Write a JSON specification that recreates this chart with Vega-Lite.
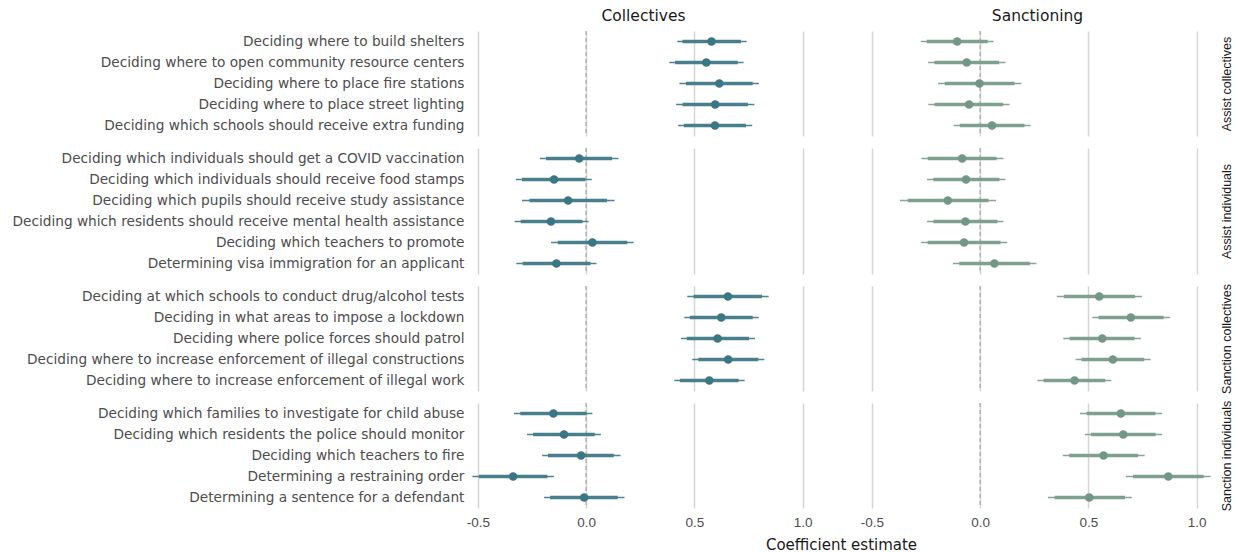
{
  "$schema": "https://vega.github.io/schema/vega-lite/v6.json",
  "padding": {"left": 11, "top": 8, "right": 2, "bottom": 1},
  "background": "white",
  "datasets": {
    "d": [
      {"m":"C","g":"AC","o":1,"t":"Deciding where to build shelters","e":0.579,"l1":0.445,"h1":0.715,"l2":0.421,"h2":0.741},
      {"m":"C","g":"AC","o":2,"t":"Deciding where to open community resource centers","e":0.555,"l1":0.411,"h1":0.700,"l2":0.384,"h2":0.727},
      {"m":"C","g":"AC","o":3,"t":"Deciding where to place fire stations","e":0.615,"l1":0.461,"h1":0.769,"l2":0.431,"h2":0.798},
      {"m":"C","g":"AC","o":4,"t":"Deciding where to place street lighting","e":0.596,"l1":0.445,"h1":0.747,"l2":0.416,"h2":0.777},
      {"m":"C","g":"AC","o":5,"t":"Deciding which schools should receive extra funding","e":0.595,"l1":0.451,"h1":0.738,"l2":0.425,"h2":0.767},
      {"m":"C","g":"AI","o":1,"t":"Deciding which individuals should get a COVID vaccination","e":-0.032,"l1":-0.185,"h1":0.120,"l2":-0.213,"h2":0.149},
      {"m":"C","g":"AI","o":2,"t":"Deciding which individuals should receive food stamps","e":-0.148,"l1":-0.296,"h1":-0.003,"l2":-0.324,"h2":0.026},
      {"m":"C","g":"AI","o":3,"t":"Deciding which pupils should receive study assistance","e":-0.083,"l1":-0.262,"h1":0.096,"l2":-0.296,"h2":0.131},
      {"m":"C","g":"AI","o":4,"t":"Deciding which residents should receive mental health assistance","e":-0.162,"l1":-0.302,"h1":-0.017,"l2":-0.330,"h2":0.011},
      {"m":"C","g":"AI","o":5,"t":"Deciding which teachers to promote","e":0.029,"l1":-0.131,"h1":0.190,"l2":-0.162,"h2":0.219},
      {"m":"C","g":"AI","o":6,"t":"Determining visa immigration for an applicant","e":-0.137,"l1":-0.293,"h1":0.020,"l2":-0.322,"h2":0.048},
      {"m":"C","g":"SC","o":1,"t":"Deciding at which schools to conduct drug/alcohol tests","e":0.655,"l1":0.496,"h1":0.812,"l2":0.467,"h2":0.843},
      {"m":"C","g":"SC","o":2,"t":"Deciding in what areas to impose a lockdown","e":0.624,"l1":0.479,"h1":0.769,"l2":0.453,"h2":0.797},
      {"m":"C","g":"SC","o":3,"t":"Deciding where police forces should patrol","e":0.607,"l1":0.465,"h1":0.752,"l2":0.438,"h2":0.780},
      {"m":"C","g":"SC","o":4,"t":"Deciding where to increase enforcement of illegal constructions","e":0.656,"l1":0.518,"h1":0.795,"l2":0.490,"h2":0.823},
      {"m":"C","g":"SC","o":5,"t":"Deciding where to increase enforcement of illegal work","e":0.569,"l1":0.433,"h1":0.704,"l2":0.407,"h2":0.732},
      {"m":"C","g":"SI","o":1,"t":"Deciding which families to investigate for child abuse","e":-0.151,"l1":-0.304,"h1":0.002,"l2":-0.333,"h2":0.029},
      {"m":"C","g":"SI","o":2,"t":"Deciding which residents the police should monitor","e":-0.102,"l1":-0.245,"h1":0.040,"l2":-0.273,"h2":0.068},
      {"m":"C","g":"SI","o":3,"t":"Deciding which teachers to fire","e":-0.023,"l1":-0.176,"h1":0.128,"l2":-0.203,"h2":0.159},
      {"m":"C","g":"SI","o":4,"t":"Determining a restraining order","e":-0.337,"l1":-0.495,"h1":-0.179,"l2":-0.525,"h2":-0.149},
      {"m":"C","g":"SI","o":5,"t":"Determining a sentence for a defendant","e":-0.009,"l1":-0.166,"h1":0.146,"l2":-0.194,"h2":0.177},
      {"m":"S","g":"AC","o":1,"t":"Deciding where to build shelters","e":-0.106,"l1":-0.247,"h1":0.035,"l2":-0.274,"h2":0.062},
      {"m":"S","g":"AC","o":2,"t":"Deciding where to open community resource centers","e":-0.062,"l1":-0.211,"h1":0.088,"l2":-0.240,"h2":0.117},
      {"m":"S","g":"AC","o":3,"t":"Deciding where to place fire stations","e":-0.003,"l1":-0.163,"h1":0.159,"l2":-0.194,"h2":0.190},
      {"m":"S","g":"AC","o":4,"t":"Deciding where to place street lighting","e":-0.051,"l1":-0.210,"h1":0.106,"l2":-0.239,"h2":0.136},
      {"m":"S","g":"AC","o":5,"t":"Deciding which schools should receive extra funding","e":0.055,"l1":-0.094,"h1":0.205,"l2":-0.122,"h2":0.233},
      {"m":"S","g":"AI","o":1,"t":"Deciding which individuals should get a COVID vaccination","e":-0.083,"l1":-0.242,"h1":0.076,"l2":-0.271,"h2":0.108},
      {"m":"S","g":"AI","o":2,"t":"Deciding which individuals should receive food stamps","e":-0.065,"l1":-0.216,"h1":0.089,"l2":-0.245,"h2":0.117},
      {"m":"S","g":"AI","o":3,"t":"Deciding which pupils should receive study assistance","e":-0.149,"l1":-0.334,"h1":0.039,"l2":-0.370,"h2":0.074},
      {"m":"S","g":"AI","o":4,"t":"Deciding which residents should receive mental health assistance","e":-0.068,"l1":-0.216,"h1":0.080,"l2":-0.245,"h2":0.108},
      {"m":"S","g":"AI","o":5,"t":"Deciding which teachers to promote","e":-0.074,"l1":-0.242,"h1":0.094,"l2":-0.273,"h2":0.125},
      {"m":"S","g":"AI","o":6,"t":"Determining visa immigration for an applicant","e":0.066,"l1":-0.096,"h1":0.230,"l2":-0.125,"h2":0.260},
      {"m":"S","g":"SC","o":1,"t":"Deciding at which schools to conduct drug/alcohol tests","e":0.550,"l1":0.387,"h1":0.715,"l2":0.354,"h2":0.747},
      {"m":"S","g":"SC","o":2,"t":"Deciding in what areas to impose a lockdown","e":0.696,"l1":0.547,"h1":0.847,"l2":0.518,"h2":0.877},
      {"m":"S","g":"SC","o":3,"t":"Deciding where police forces should patrol","e":0.564,"l1":0.413,"h1":0.713,"l2":0.384,"h2":0.743},
      {"m":"S","g":"SC","o":4,"t":"Deciding where to increase enforcement of illegal constructions","e":0.613,"l1":0.468,"h1":0.758,"l2":0.441,"h2":0.787},
      {"m":"S","g":"SC","o":5,"t":"Deciding where to increase enforcement of illegal work","e":0.436,"l1":0.293,"h1":0.578,"l2":0.265,"h2":0.606},
      {"m":"S","g":"SI","o":1,"t":"Deciding which families to investigate for child abuse","e":0.650,"l1":0.492,"h1":0.809,"l2":0.461,"h2":0.840},
      {"m":"S","g":"SI","o":2,"t":"Deciding which residents the police should monitor","e":0.661,"l1":0.512,"h1":0.810,"l2":0.484,"h2":0.840},
      {"m":"S","g":"SI","o":3,"t":"Deciding which teachers to fire","e":0.570,"l1":0.411,"h1":0.729,"l2":0.382,"h2":0.760},
      {"m":"S","g":"SI","o":4,"t":"Determining a restraining order","e":0.869,"l1":0.706,"h1":1.032,"l2":0.673,"h2":1.065},
      {"m":"S","g":"SI","o":5,"t":"Determining a sentence for a defendant","e":0.504,"l1":0.344,"h1":0.669,"l2":0.313,"h2":0.700}
    ]
  },
  "columns": 2,
  "align": "each",
  "bounds": "flush",
  "spacing": {"row": 12, "column": 41},
  "concat": [
    {
      "width": 353, "height": {"step": 21},
      "title": {"text": "Collectives"},
      "layer": [
        {"data": {"values": [{"z": 0}]}, "mark": {"type": "rule", "color": "#b3b3b3", "strokeDash": [4, 3], "strokeWidth": 1.5},
         "encoding": {"x": {"field": "z", "type": "quantitative", "scale": {"domain": [-0.55, 1.08], "nice": false, "zero": false}, "axis": {"values": [-0.5, 0, 0.5, 1], "labels": false, "title": null}}}},
        {"data": {"name": "d"}, "transform": [{"filter": "datum.m === 'C' && datum.g === 'AC'"}],
         "encoding": {"y": {"field": "t", "type": "nominal", "sort": {"field": "o", "op": "min"}, "axis": {"title": null, "labelLimit": 1000}}},
         "layer": [
           {"mark": {"type": "rule", "color": "#4f8391", "strokeWidth": 1.3}, "encoding": {"x": {"field": "l2", "type": "quantitative", "scale": {"domain": [-0.55, 1.08], "nice": false, "zero": false}, "axis": {"values": [-0.5, 0, 0.5, 1], "labels": false, "title": null}}, "x2": {"field": "h2"}}},
           {"mark": {"type": "rule", "color": "#487f8c", "strokeWidth": 3.4}, "encoding": {"x": {"field": "l1", "type": "quantitative", "scale": {"domain": [-0.55, 1.08], "nice": false, "zero": false}, "axis": {"values": [-0.5, 0, 0.5, 1], "labels": false, "title": null}}, "x2": {"field": "h1"}}},
           {"mark": {"type": "circle", "color": "#3a7683", "size": 72, "opacity": 1}, "encoding": {"x": {"field": "e", "type": "quantitative", "scale": {"domain": [-0.55, 1.08], "nice": false, "zero": false}, "axis": {"values": [-0.5, 0, 0.5, 1], "labels": false, "title": null}}}}
         ]}
      ]
    },
    {
      "width": 353, "height": {"step": 21},
      "title": {"text": "Sanctioning"},
      "layer": [
        {"data": {"values": [{"z": 0}]}, "mark": {"type": "rule", "color": "#b3b3b3", "strokeDash": [4, 3], "strokeWidth": 1.5},
         "encoding": {"x": {"field": "z", "type": "quantitative", "scale": {"domain": [-0.55, 1.08], "nice": false, "zero": false}, "axis": {"values": [-0.5, 0, 0.5, 1], "labels": false, "title": null}}}},
        {"data": {"name": "d"}, "transform": [{"filter": "datum.m === 'S' && datum.g === 'AC'"}],
         "encoding": {"y": {"field": "t", "type": "nominal", "sort": {"field": "o", "op": "min"}, "axis": {"orient": "right", "labels": false, "title": "Assist collectives"}}},
         "layer": [
           {"mark": {"type": "rule", "color": "#86a596", "strokeWidth": 1.3}, "encoding": {"x": {"field": "l2", "type": "quantitative", "scale": {"domain": [-0.55, 1.08], "nice": false, "zero": false}, "axis": {"values": [-0.5, 0, 0.5, 1], "labels": false, "title": null}}, "x2": {"field": "h2"}}},
           {"mark": {"type": "rule", "color": "#7f9f8f", "strokeWidth": 3.4}, "encoding": {"x": {"field": "l1", "type": "quantitative", "scale": {"domain": [-0.55, 1.08], "nice": false, "zero": false}, "axis": {"values": [-0.5, 0, 0.5, 1], "labels": false, "title": null}}, "x2": {"field": "h1"}}},
           {"mark": {"type": "circle", "color": "#739786", "size": 72, "opacity": 1}, "encoding": {"x": {"field": "e", "type": "quantitative", "scale": {"domain": [-0.55, 1.08], "nice": false, "zero": false}, "axis": {"values": [-0.5, 0, 0.5, 1], "labels": false, "title": null}}}}
         ]}
      ]
    },
    {
      "width": 353, "height": {"step": 21},
      "layer": [
        {"data": {"values": [{"z": 0}]}, "mark": {"type": "rule", "color": "#b3b3b3", "strokeDash": [4, 3], "strokeWidth": 1.5},
         "encoding": {"x": {"field": "z", "type": "quantitative", "scale": {"domain": [-0.55, 1.08], "nice": false, "zero": false}, "axis": {"values": [-0.5, 0, 0.5, 1], "labels": false, "title": null}}}},
        {"data": {"name": "d"}, "transform": [{"filter": "datum.m === 'C' && datum.g === 'AI'"}],
         "encoding": {"y": {"field": "t", "type": "nominal", "sort": {"field": "o", "op": "min"}, "axis": {"title": null, "labelLimit": 1000}}},
         "layer": [
           {"mark": {"type": "rule", "color": "#4f8391", "strokeWidth": 1.3}, "encoding": {"x": {"field": "l2", "type": "quantitative", "scale": {"domain": [-0.55, 1.08], "nice": false, "zero": false}, "axis": {"values": [-0.5, 0, 0.5, 1], "labels": false, "title": null}}, "x2": {"field": "h2"}}},
           {"mark": {"type": "rule", "color": "#487f8c", "strokeWidth": 3.4}, "encoding": {"x": {"field": "l1", "type": "quantitative", "scale": {"domain": [-0.55, 1.08], "nice": false, "zero": false}, "axis": {"values": [-0.5, 0, 0.5, 1], "labels": false, "title": null}}, "x2": {"field": "h1"}}},
           {"mark": {"type": "circle", "color": "#3a7683", "size": 72, "opacity": 1}, "encoding": {"x": {"field": "e", "type": "quantitative", "scale": {"domain": [-0.55, 1.08], "nice": false, "zero": false}, "axis": {"values": [-0.5, 0, 0.5, 1], "labels": false, "title": null}}}}
         ]}
      ]
    },
    {
      "width": 353, "height": {"step": 21},
      "layer": [
        {"data": {"values": [{"z": 0}]}, "mark": {"type": "rule", "color": "#b3b3b3", "strokeDash": [4, 3], "strokeWidth": 1.5},
         "encoding": {"x": {"field": "z", "type": "quantitative", "scale": {"domain": [-0.55, 1.08], "nice": false, "zero": false}, "axis": {"values": [-0.5, 0, 0.5, 1], "labels": false, "title": null}}}},
        {"data": {"name": "d"}, "transform": [{"filter": "datum.m === 'S' && datum.g === 'AI'"}],
         "encoding": {"y": {"field": "t", "type": "nominal", "sort": {"field": "o", "op": "min"}, "axis": {"orient": "right", "labels": false, "title": "Assist individuals"}}},
         "layer": [
           {"mark": {"type": "rule", "color": "#86a596", "strokeWidth": 1.3}, "encoding": {"x": {"field": "l2", "type": "quantitative", "scale": {"domain": [-0.55, 1.08], "nice": false, "zero": false}, "axis": {"values": [-0.5, 0, 0.5, 1], "labels": false, "title": null}}, "x2": {"field": "h2"}}},
           {"mark": {"type": "rule", "color": "#7f9f8f", "strokeWidth": 3.4}, "encoding": {"x": {"field": "l1", "type": "quantitative", "scale": {"domain": [-0.55, 1.08], "nice": false, "zero": false}, "axis": {"values": [-0.5, 0, 0.5, 1], "labels": false, "title": null}}, "x2": {"field": "h1"}}},
           {"mark": {"type": "circle", "color": "#739786", "size": 72, "opacity": 1}, "encoding": {"x": {"field": "e", "type": "quantitative", "scale": {"domain": [-0.55, 1.08], "nice": false, "zero": false}, "axis": {"values": [-0.5, 0, 0.5, 1], "labels": false, "title": null}}}}
         ]}
      ]
    },
    {
      "width": 353, "height": {"step": 21},
      "layer": [
        {"data": {"values": [{"z": 0}]}, "mark": {"type": "rule", "color": "#b3b3b3", "strokeDash": [4, 3], "strokeWidth": 1.5},
         "encoding": {"x": {"field": "z", "type": "quantitative", "scale": {"domain": [-0.55, 1.08], "nice": false, "zero": false}, "axis": {"values": [-0.5, 0, 0.5, 1], "labels": false, "title": null}}}},
        {"data": {"name": "d"}, "transform": [{"filter": "datum.m === 'C' && datum.g === 'SC'"}],
         "encoding": {"y": {"field": "t", "type": "nominal", "sort": {"field": "o", "op": "min"}, "axis": {"title": null, "labelLimit": 1000}}},
         "layer": [
           {"mark": {"type": "rule", "color": "#4f8391", "strokeWidth": 1.3}, "encoding": {"x": {"field": "l2", "type": "quantitative", "scale": {"domain": [-0.55, 1.08], "nice": false, "zero": false}, "axis": {"values": [-0.5, 0, 0.5, 1], "labels": false, "title": null}}, "x2": {"field": "h2"}}},
           {"mark": {"type": "rule", "color": "#487f8c", "strokeWidth": 3.4}, "encoding": {"x": {"field": "l1", "type": "quantitative", "scale": {"domain": [-0.55, 1.08], "nice": false, "zero": false}, "axis": {"values": [-0.5, 0, 0.5, 1], "labels": false, "title": null}}, "x2": {"field": "h1"}}},
           {"mark": {"type": "circle", "color": "#3a7683", "size": 72, "opacity": 1}, "encoding": {"x": {"field": "e", "type": "quantitative", "scale": {"domain": [-0.55, 1.08], "nice": false, "zero": false}, "axis": {"values": [-0.5, 0, 0.5, 1], "labels": false, "title": null}}}}
         ]}
      ]
    },
    {
      "width": 353, "height": {"step": 21},
      "layer": [
        {"data": {"values": [{"z": 0}]}, "mark": {"type": "rule", "color": "#b3b3b3", "strokeDash": [4, 3], "strokeWidth": 1.5},
         "encoding": {"x": {"field": "z", "type": "quantitative", "scale": {"domain": [-0.55, 1.08], "nice": false, "zero": false}, "axis": {"values": [-0.5, 0, 0.5, 1], "labels": false, "title": null}}}},
        {"data": {"name": "d"}, "transform": [{"filter": "datum.m === 'S' && datum.g === 'SC'"}],
         "encoding": {"y": {"field": "t", "type": "nominal", "sort": {"field": "o", "op": "min"}, "axis": {"orient": "right", "labels": false, "title": "Sanction collectives"}}},
         "layer": [
           {"mark": {"type": "rule", "color": "#86a596", "strokeWidth": 1.3}, "encoding": {"x": {"field": "l2", "type": "quantitative", "scale": {"domain": [-0.55, 1.08], "nice": false, "zero": false}, "axis": {"values": [-0.5, 0, 0.5, 1], "labels": false, "title": null}}, "x2": {"field": "h2"}}},
           {"mark": {"type": "rule", "color": "#7f9f8f", "strokeWidth": 3.4}, "encoding": {"x": {"field": "l1", "type": "quantitative", "scale": {"domain": [-0.55, 1.08], "nice": false, "zero": false}, "axis": {"values": [-0.5, 0, 0.5, 1], "labels": false, "title": null}}, "x2": {"field": "h1"}}},
           {"mark": {"type": "circle", "color": "#739786", "size": 72, "opacity": 1}, "encoding": {"x": {"field": "e", "type": "quantitative", "scale": {"domain": [-0.55, 1.08], "nice": false, "zero": false}, "axis": {"values": [-0.5, 0, 0.5, 1], "labels": false, "title": null}}}}
         ]}
      ]
    },
    {
      "width": 353, "height": {"step": 21},
      "layer": [
        {"data": {"values": [{"z": 0}]}, "mark": {"type": "rule", "color": "#b3b3b3", "strokeDash": [4, 3], "strokeWidth": 1.5},
         "encoding": {"x": {"field": "z", "type": "quantitative", "scale": {"domain": [-0.55, 1.08], "nice": false, "zero": false}, "axis": {"values": [-0.5, 0, 0.5, 1], "labelExpr": "datum.value < 0 ? '-' + format(-datum.value, '.1f') : format(datum.value, '.1f')", "title": "Coefficient estimate", "titleX": 374}}}},
        {"data": {"name": "d"}, "transform": [{"filter": "datum.m === 'C' && datum.g === 'SI'"}],
         "encoding": {"y": {"field": "t", "type": "nominal", "sort": {"field": "o", "op": "min"}, "axis": {"title": null, "labelLimit": 1000}}},
         "layer": [
           {"mark": {"type": "rule", "color": "#4f8391", "strokeWidth": 1.3}, "encoding": {"x": {"field": "l2", "type": "quantitative", "scale": {"domain": [-0.55, 1.08], "nice": false, "zero": false}, "axis": {"values": [-0.5, 0, 0.5, 1], "labelExpr": "datum.value < 0 ? '-' + format(-datum.value, '.1f') : format(datum.value, '.1f')", "title": "Coefficient estimate", "titleX": 374}}, "x2": {"field": "h2"}}},
           {"mark": {"type": "rule", "color": "#487f8c", "strokeWidth": 3.4}, "encoding": {"x": {"field": "l1", "type": "quantitative", "scale": {"domain": [-0.55, 1.08], "nice": false, "zero": false}, "axis": {"values": [-0.5, 0, 0.5, 1], "labelExpr": "datum.value < 0 ? '-' + format(-datum.value, '.1f') : format(datum.value, '.1f')", "title": "Coefficient estimate", "titleX": 374}}, "x2": {"field": "h1"}}},
           {"mark": {"type": "circle", "color": "#3a7683", "size": 72, "opacity": 1}, "encoding": {"x": {"field": "e", "type": "quantitative", "scale": {"domain": [-0.55, 1.08], "nice": false, "zero": false}, "axis": {"values": [-0.5, 0, 0.5, 1], "labelExpr": "datum.value < 0 ? '-' + format(-datum.value, '.1f') : format(datum.value, '.1f')", "title": "Coefficient estimate", "titleX": 374}}}}
         ]}
      ]
    },
    {
      "width": 353, "height": {"step": 21},
      "layer": [
        {"data": {"values": [{"z": 0}]}, "mark": {"type": "rule", "color": "#b3b3b3", "strokeDash": [4, 3], "strokeWidth": 1.5},
         "encoding": {"x": {"field": "z", "type": "quantitative", "scale": {"domain": [-0.55, 1.08], "nice": false, "zero": false}, "axis": {"values": [-0.5, 0, 0.5, 1], "labelExpr": "datum.value < 0 ? '-' + format(-datum.value, '.1f') : format(datum.value, '.1f')", "title": null}}}},
        {"data": {"name": "d"}, "transform": [{"filter": "datum.m === 'S' && datum.g === 'SI'"}],
         "encoding": {"y": {"field": "t", "type": "nominal", "sort": {"field": "o", "op": "min"}, "axis": {"orient": "right", "labels": false, "title": "Sanction individuals"}}},
         "layer": [
           {"mark": {"type": "rule", "color": "#86a596", "strokeWidth": 1.3}, "encoding": {"x": {"field": "l2", "type": "quantitative", "scale": {"domain": [-0.55, 1.08], "nice": false, "zero": false}, "axis": {"values": [-0.5, 0, 0.5, 1], "labelExpr": "datum.value < 0 ? '-' + format(-datum.value, '.1f') : format(datum.value, '.1f')", "title": null}}, "x2": {"field": "h2"}}},
           {"mark": {"type": "rule", "color": "#7f9f8f", "strokeWidth": 3.4}, "encoding": {"x": {"field": "l1", "type": "quantitative", "scale": {"domain": [-0.55, 1.08], "nice": false, "zero": false}, "axis": {"values": [-0.5, 0, 0.5, 1], "labelExpr": "datum.value < 0 ? '-' + format(-datum.value, '.1f') : format(datum.value, '.1f')", "title": null}}, "x2": {"field": "h1"}}},
           {"mark": {"type": "circle", "color": "#739786", "size": 72, "opacity": 1}, "encoding": {"x": {"field": "e", "type": "quantitative", "scale": {"domain": [-0.55, 1.08], "nice": false, "zero": false}, "axis": {"values": [-0.5, 0, 0.5, 1], "labelExpr": "datum.value < 0 ? '-' + format(-datum.value, '.1f') : format(datum.value, '.1f')", "title": null}}}}
         ]}
      ]
    }
  ],
  "config": {
    "font": "Liberation Sans, Arial, Helvetica, sans-serif",
    "view": {"stroke": null},
    "axis": {"domain": false, "ticks": false, "gridColor": "#d4d4d4", "gridWidth": 1.5, "labelColor": "#4d4d4d", "labelFontSize": 13.5, "labelFont": "Liberation Sans, Arial, sans-serif", "titleFontWeight": "normal", "titleColor": "#1a1a1a", "titleFontSize": 15, "titleFont": "DejaVu Sans, sans-serif"},
    "axisX": {"labelPadding": 7, "titlePadding": 9},
    "axisY": {"labelPadding": 3, "labelFont": "DejaVu Sans, sans-serif", "labelFontSize": 13.7},
    "axisRight": {"titleFont": "Liberation Sans, Arial, sans-serif", "titleFontSize": 12.5, "titleAngle": 270, "titlePadding": 19},
    "title": {"fontSize": 15.5, "fontWeight": "normal", "color": "#1a1a1a", "font": "DejaVu Sans, sans-serif", "anchor": "middle", "offset": 6}
  }
}
